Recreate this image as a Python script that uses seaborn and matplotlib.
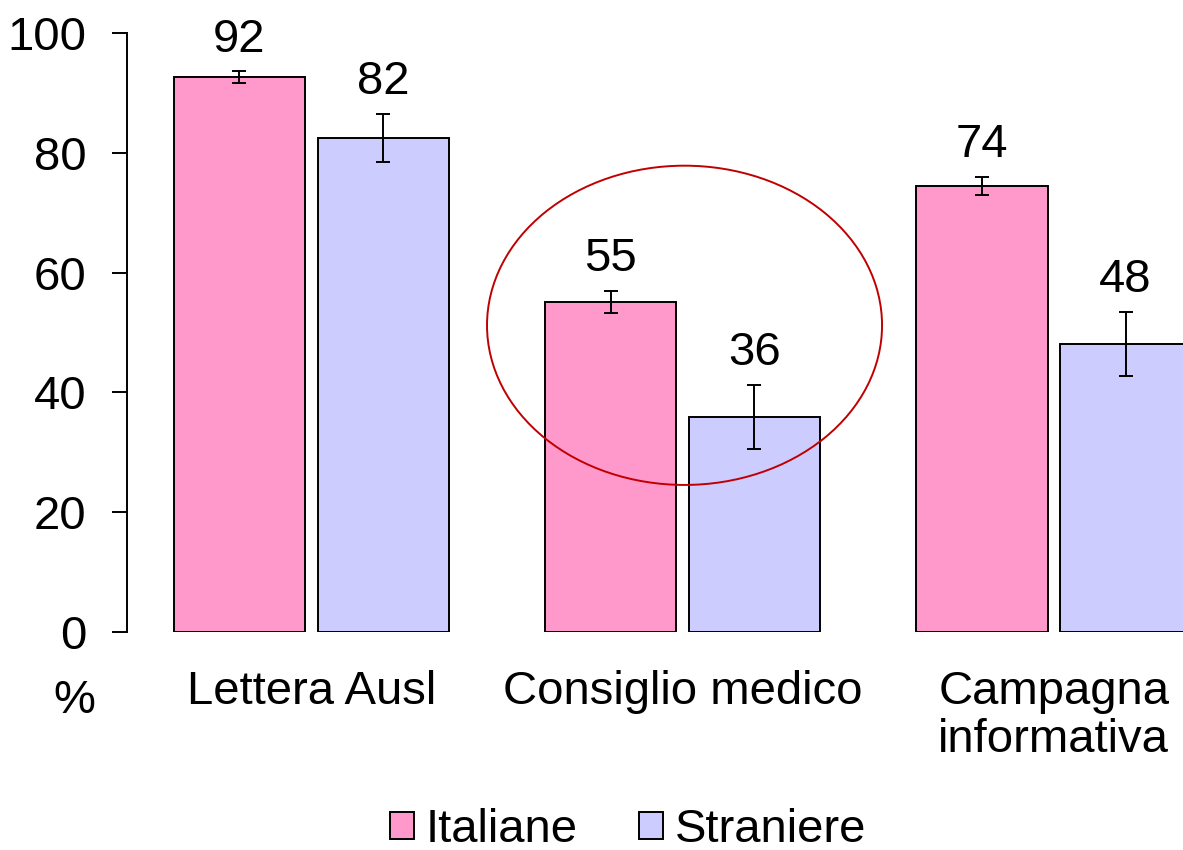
import pandas as pd
import matplotlib.pyplot as plt
import seaborn as sns
from matplotlib.patches import Ellipse

# Data
categories = ['Lettera Ausl', 'Consiglio medico', 'Campagna\ninformativa']
groups = ['Italiane', 'Straniere']
italiane = [92.6, 55.1, 74.5]
straniere = [82.5, 35.9, 48.1]
err_italiane = [1.0, 1.8, 1.5]
err_straniere = [4.0, 5.4, 5.4]
labels_italiane = ['92', '55', '74']
labels_straniere = ['82', '36', '48']

df = pd.DataFrame({
    'Categoria': categories * 2,
    'Gruppo': [groups[0]] * 3 + [groups[1]] * 3,
    'Valore': italiane + straniere,
})

sns.set_style('white')
plt.rcParams['font.family'] = ['Liberation Sans', 'DejaVu Sans']
plt.rcParams['text.color'] = 'black'

fig = plt.figure(figsize=(11.83, 8.5), dpi=100)
ax = fig.add_axes([127 / 1183, 1 - 632 / 850, 1 - 127 / 1183, (632 - 33) / 850])

sns.barplot(data=df, x='Categoria', y='Valore', hue='Gruppo',
            palette=['#FF99CC', '#CCCCFF'], saturation=1, width=0.7736, gap=0.0875,
            edgecolor='black', linewidth=1.4, errorbar=None, ax=ax)

errs = [err_italiane, err_straniere]
labs = [labels_italiane, labels_straniere]
for cont, e, lab in zip(ax.containers, errs, labs):
    xs = [p.get_x() + p.get_width() / 2 for p in cont.patches]
    hs = [p.get_height() for p in cont.patches]
    ax.errorbar(xs, hs, yerr=e, fmt='none', ecolor='black',
                elinewidth=1.4, capsize=4.7, capthick=1.4, clip_on=False)
    for x, h, ee, t in zip(xs, hs, e, lab):
        ax.text(x, h + ee + 3.3, t, ha='center', va='baseline', fontsize=34)

# highlight ellipse
ax.add_patch(Ellipse((1.0054, 51.2), 1.064, 53.3, fill=False,
                     edgecolor='#C00000', linewidth=1.4, zorder=5))

ax.set_xlim(-0.4963, 2.348)
ax.set_ylim(0, 100)
ax.set_yticks(range(0, 101, 20))
ax.set_xlabel('')
ax.set_ylabel('')
sns.despine(ax=ax, bottom=True)
ax.spines['left'].set_linewidth(1.4)
ax.spines['left'].set_color('black')
ax.tick_params(axis='y', direction='out', length=11, width=1.4,
               labelsize=34, pad=18, left=True, colors='black')
ax.tick_params(axis='x', length=0, labelsize=34, pad=27, colors='black')
for t in ax.get_xticklabels():
    t.set_linespacing(1.12)

ax.text(-0.05, -0.115, '%', transform=ax.transAxes, fontsize=34,
        ha='center', va='center')

handles, lbls = ax.get_legend_handles_labels()
ax.legend_.remove()
fig.legend(handles, lbls, loc='center', bbox_to_anchor=(628 / 1183, 1 - 830 / 850),
           ncol=2, frameon=False, fontsize=34, handlelength=0.5, handleheight=0.5,
           handletextpad=0.25, columnspacing=1.3, borderaxespad=0)

fig.savefig('out.png', dpi=100)
